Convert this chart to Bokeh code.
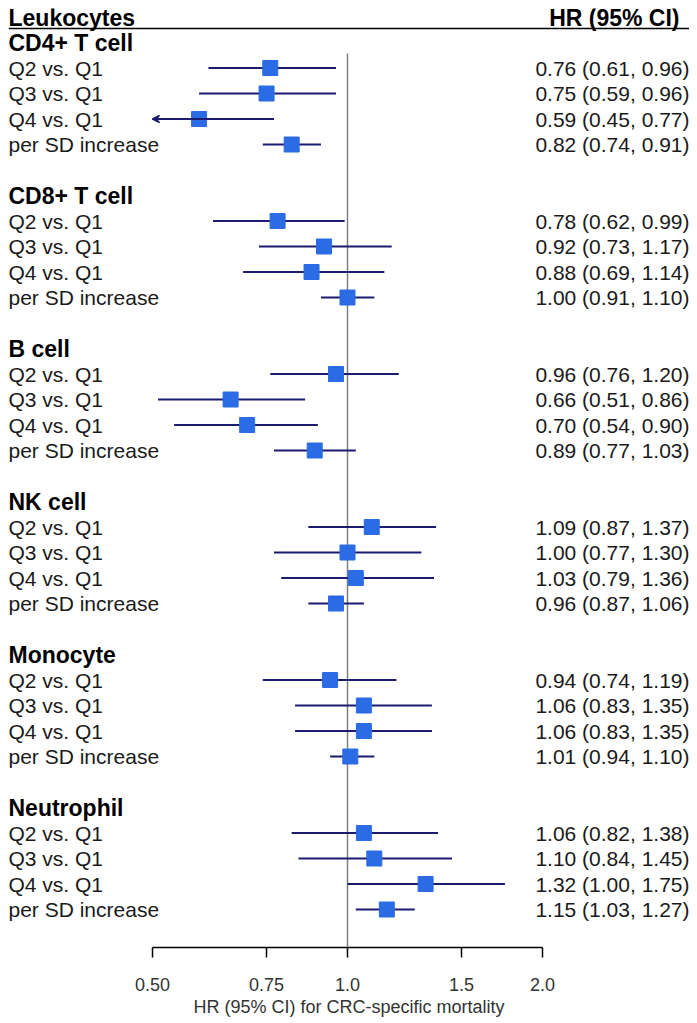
import math
import numpy as np
from bokeh.plotting import figure
from bokeh.models import (Range1d, FixedTicker, ColumnDataSource, Arrow, VeeHead)
from bokeh.core.properties import value
from bokeh.embed import file_html
from bokeh.resources import INLINE

groups = ["CD4+ T cell", "CD8+ T cell", "B cell", "NK cell", "Monocyte", "Neutrophil"]
comparisons = ["Q2 vs. Q1", "Q3 vs. Q1", "Q4 vs. Q1", "per SD increase"]

hr = [0.76, 0.75, 0.59, 0.82,
      0.78, 0.92, 0.88, 1.00,
      0.96, 0.66, 0.70, 0.89,
      1.09, 1.00, 1.03, 0.96,
      0.94, 1.06, 1.06, 1.01,
      1.06, 1.10, 1.32, 1.15]
lo = [0.61, 0.59, 0.45, 0.74,
      0.62, 0.73, 0.69, 0.91,
      0.76, 0.51, 0.54, 0.77,
      0.87, 0.77, 0.79, 0.87,
      0.74, 0.83, 0.83, 0.94,
      0.82, 0.84, 1.00, 1.03]
hi = [0.96, 0.96, 0.77, 0.91,
      0.99, 1.17, 1.14, 1.10,
      1.20, 0.86, 0.90, 1.03,
      1.37, 1.30, 1.36, 1.06,
      1.19, 1.35, 1.35, 1.10,
      1.38, 1.45, 1.75, 1.27]

ticks = [0.5, 0.75, 1.0, 1.5, 2.0]
tick_labels = ["0.50", "0.75", "1.0", "1.5", "2.0"]
x_title = "HR (95% CI) for CRC-specific mortality"
left_header = "Leukocytes"
right_header = "HR (95% CI)"

FONT = "Liberation Sans"
NAVY = "#1b1b6f"
BLUE = "#2b6be3"

# layout geometry
frame_w, frame_h = 681, 939
axis_lo, axis_hi = ticks[0], ticks[-1]
px_per_log = 390 / math.log(axis_hi / axis_lo)
x0 = math.exp(math.log(axis_lo) - 144 / px_per_log)
x1 = math.exp(math.log(axis_hi) + (frame_w - 534) / px_per_log)
slot = 25.5
y_top = -34 / slot
y_bot = (frame_h - 34) / slot

p = figure(frame_width=frame_w, frame_height=frame_h, x_axis_type="log",
           x_range=Range1d(x0, x1), y_range=Range1d(y_bot, y_top),
           output_backend="svg", toolbar_location=None,
           min_border_left=8, min_border_right=0, min_border_top=8,
           min_border_bottom=0, background_fill_color="white",
           border_fill_color="white", outline_line_color=None)
p.yaxis.visible = False
p.xgrid.visible = False
p.ygrid.visible = False

# rows
row_y, row_lbl, head_y = [], [], []
for g, name in enumerate(groups):
    head_y.append(6 * g)
    for k, c in enumerate(comparisons):
        row_y.append(6 * g + k + 1)
        row_lbl.append(c)

lo_draw = [max(v, axis_lo) for v in lo]
src = ColumnDataSource(dict(y=row_y, hr=hr, lo=lo_draw, hi=hi, lbl=row_lbl,
                            txt=[f"{h:.2f} ({a:.2f}, {b:.2f})" for h, a, b in zip(hr, lo, hi)],
                            xl=[x0] * len(row_y), xr=[x1] * len(row_y)))

# reference line
p.segment(x0=[1.0], x1=[1.0], y0=[0.43], y1=[y_bot], line_color="#808080", line_width=1.5)

p.segment(x0="lo", x1="hi", y0="y", y1="y", source=src, line_color=NAVY, line_width=2)
for i, v in enumerate(lo):
    if v < axis_lo:
        p.add_layout(Arrow(end=VeeHead(size=7, line_color=NAVY, fill_color=NAVY, line_width=1.5),
                           x_start=hi[i], y_start=row_y[i], x_end=axis_lo, y_end=row_y[i],
                           line_color=NAVY, line_width=2))
p.scatter(x="hr", y="y", source=src, marker="square", size=15,
          fill_color=BLUE, line_color=BLUE)

p.text(x="xl", y="y", text="lbl", source=src, text_font=value(FONT),
       text_font_size="21px", text_baseline="middle", text_align="left", text_color="#1a1a1a")
p.text(x="xr", y="y", text="txt", source=src, text_font=value(FONT),
       text_font_size="21px", text_baseline="middle", text_align="right", text_color="#1a1a1a")
p.text(x=[x0] * len(groups), y=head_y, text=groups, text_font=value(FONT),
       text_font_size="23px", text_font_style="bold", text_baseline="middle",
       text_align="left", text_color="#000000")

# header
p.text(x=[x0], y=[-0.98], text=[left_header], text_font=value(FONT),
       text_font_size="23px", text_font_style="bold", text_baseline="middle",
       text_align="left", text_color="#000000")
p.text(x=[x1], y=[-0.98], text=[right_header], text_font=value(FONT),
       text_font_size="23px", text_font_style="bold", text_baseline="middle",
       text_align="right", text_color="#000000", x_offset=-10)
p.segment(x0=[x0], x1=[x1], y0=[-0.55], y1=[-0.55], line_color="#000000", line_width=1.5)

ax = p.xaxis[0]
ax.bounds = (axis_lo, axis_hi)
ax.ticker = FixedTicker(ticks=ticks, minor_ticks=[])
ax.major_label_overrides = {t: l for t, l in zip(ticks, tick_labels)}
ax.axis_line_color = "#000000"
ax.axis_line_width = 1.5
ax.major_tick_line_color = "#000000"
ax.major_tick_line_width = 1.5
ax.major_tick_in = 0
ax.major_tick_out = 10
ax.minor_tick_line_color = None
ax.major_label_standoff = 20
ax.major_label_text_font = FONT
ax.major_label_text_font_size = "18px"
ax.major_label_text_color = "#333333"
ax.axis_label = x_title
ax.axis_label_standoff = 3
ax.axis_label_text_font = FONT
ax.axis_label_text_font_size = "18px"
ax.axis_label_text_font_style = "normal"
ax.axis_label_text_color = "#333333"

open("out.html", "w").write(file_html(p, INLINE))
